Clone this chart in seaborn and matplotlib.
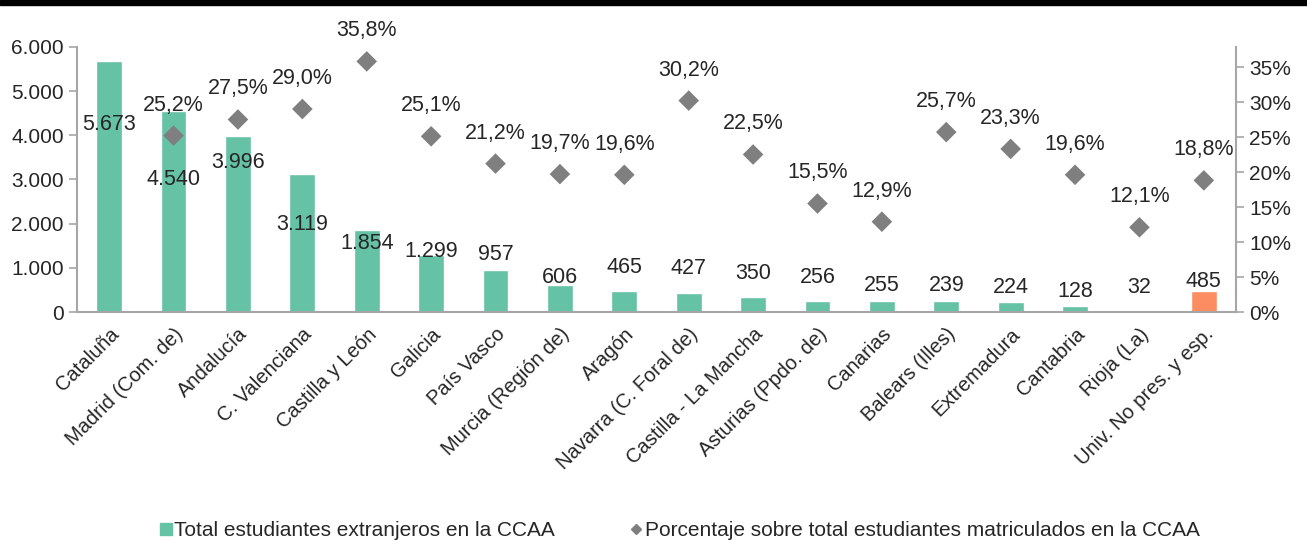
import numpy as np
import pandas as pd
import matplotlib
matplotlib.use("Agg")
import matplotlib.pyplot as plt
from matplotlib.ticker import FuncFormatter, FixedLocator
from matplotlib.lines import Line2D
from matplotlib.patches import Rectangle
import seaborn as sns

# data
regiones = ["Cataluña", "Madrid (Com. de)", "Andalucía", "C. Valenciana", "Castilla y León",
            "Galicia", "País Vasco", "Murcia (Región de)", "Aragón", "Navarra (C. Foral de)",
            "Castilla - La Mancha", "Asturias (Ppdo. de)", "Canarias", "Balears (Illes)",
            "Extremadura", "Cantabria", "Rioja (La)", "Univ. No pres. y esp."]
extranjeros = [5673, 4540, 3996, 3119, 1854, 1299, 957, 606, 465, 427, 350, 256, 255, 239, 224, 128, 32, 485]
# Cataluña has no marker in the reference
porcentaje = [np.nan, 25.2, 27.5, 29.0, 35.8, 25.1, 21.2, 19.7, 19.6, 30.2, 22.5, 15.5, 12.9, 25.7, 23.3, 19.6, 12.1, 18.8]
# where the bar value labels sit (left axis units), as Excel placed them
pos_etiqueta = [4234, 2989, 3396, 1992, 1562, 1381, 1313, 792, 1019, 974, 883, 792, 611, 589, 566, 475, 566, 702]

verde = "#66c2a5"
naranja = "#fc8d62"
gris = "#7f7f7f"
colores = [verde] * 17 + [naranja]

sns.set_style("white")
plt.rcParams["font.family"] = ["Liberation Sans", "DejaVu Sans"]

df = pd.DataFrame({"region": regiones, "total": extranjeros, "pct": porcentaje,
                   "x": range(len(regiones))})

fig = plt.figure(figsize=(13.07, 5.4), dpi=100)
ax = fig.add_axes([0.0589, 0.4222, 0.8868, 0.4908])
sns.barplot(data=df, x="region", y="total", hue="region", palette=colores,
            legend=False, width=0.4, ax=ax, saturation=1)
ax.set_xlim(-0.5, len(regiones) - 0.5)
ax.set_ylim(0, 6000)
ax.set_yticks(range(0, 6001, 1000))
ax.yaxis.set_major_formatter(FuncFormatter(lambda v, p: f"{int(v):,}".replace(",", ".")))
ax.set_xlabel("")
ax.set_ylabel("")
ax.set_xticks(range(len(regiones)))
ax.set_xticklabels(regiones, rotation=45, ha="right", rotation_mode="anchor", fontsize=14.5)
ax.xaxis.set_minor_locator(FixedLocator(np.arange(-0.5, len(regiones), 1)))
ax.tick_params(axis="x", which="major", length=0, pad=9)
ax.tick_params(axis="x", which="minor", length=6, color="#a6a6a6", width=1.2)
ax.tick_params(axis="y", length=6, color="#a6a6a6", width=1.2, labelsize=15)
for s in ["top", "right"]:
    ax.spines[s].set_visible(False)
for s in ["left", "bottom"]:
    ax.spines[s].set_color("#a6a6a6")
    ax.spines[s].set_linewidth(1.5)

for i, v in enumerate(extranjeros):
    ax.text(i, pos_etiqueta[i], f"{v:,}".replace(",", "."), ha="center", va="center", fontsize=15.5)

ax2 = ax.twinx()
sns.scatterplot(data=df.dropna(), x="x", y="pct", marker="D", s=110, color=gris,
                edgecolor="none", ax=ax2)
ax2.set_ylim(0, 37.86)
ax2.set_yticks(range(0, 36, 5))
ax2.yaxis.set_major_formatter(FuncFormatter(lambda v, p: f"{int(v)}%"))
ax2.set_ylabel("")
ax2.set_xlabel("")
ax2.tick_params(axis="y", length=6, color="#a6a6a6", width=1.2, labelsize=15)
for s in ["top", "left", "bottom"]:
    ax2.spines[s].set_visible(False)
ax2.spines["right"].set_color("#a6a6a6")
ax2.spines["right"].set_linewidth(1.5)
ax2.set_xlim(-0.5, len(regiones) - 0.5)

for i, p in enumerate(porcentaje):
    if np.isnan(p):
        continue
    ax2.annotate(f"{p:.1f}%".replace(".", ","), (i, p), xytext=(0, 22),
                 textcoords="offset points", ha="center", va="center", fontsize=15.5)

handles = [Line2D([], [], marker="s", linestyle="none", color=verde, markersize=8),
           Line2D([], [], marker="D", linestyle="none", color=gris, markersize=5)]
fig.legend(handles, ["Total estudiantes extranjeros en la CCAA",
                     "Porcentaje sobre total estudiantes matriculados en la CCAA"],
           loc="lower center", bbox_to_anchor=(0.52, -0.035), ncol=2, frameon=False,
           fontsize=15, handlelength=0.6, handletextpad=0.1, columnspacing=3.6)

fig.add_artist(Rectangle((0, 0.99), 1, 0.01, transform=fig.transFigure, color="black"))

fig.savefig("out.png", dpi=100)
